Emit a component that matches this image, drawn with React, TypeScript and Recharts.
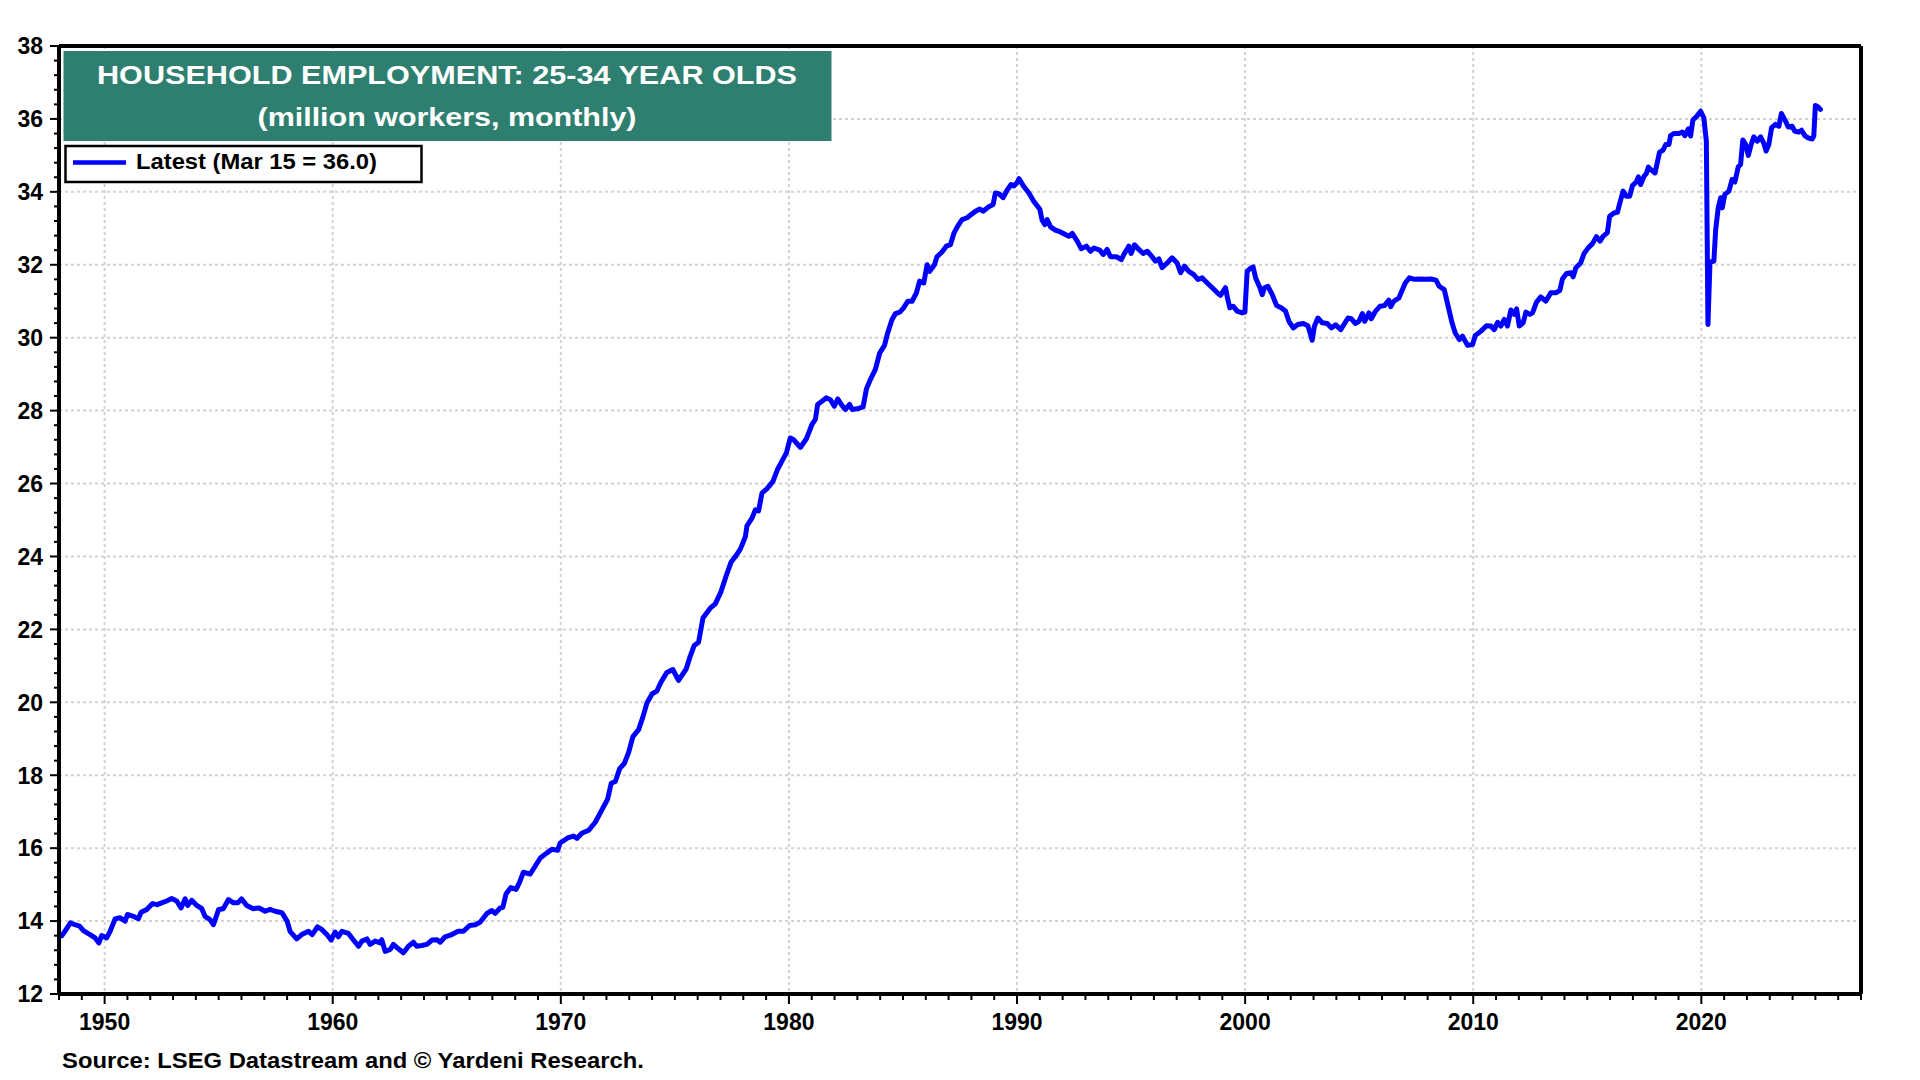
import { CartesianGrid, Line, LineChart, ReferenceLine, XAxis, YAxis } from "recharts";

const FONT = '"Liberation Sans", Arial, Helvetica, sans-serif';
const BLUE = "#0000ff";

// [year, million workers]
const from1948 = [
  [1948.12, 13.6], [1948.26, 13.72], [1948.5, 13.95], [1948.7, 13.9], [1948.9, 13.86], [1949.07, 13.74],
  [1949.36, 13.63], [1949.58, 13.54], [1949.75, 13.4], [1949.87, 13.6], [1950.09, 13.54], [1950.24, 13.72],
  [1950.46, 14.06], [1950.68, 14.09], [1950.9, 14.0], [1951.0, 14.18], [1951.26, 14.13], [1951.48, 14.06],
  [1951.6, 14.24], [1951.85, 14.32], [1952.1, 14.48], [1952.3, 14.45], [1952.5, 14.5], [1952.72, 14.55],
  [1952.94, 14.62], [1953.16, 14.55], [1953.35, 14.36], [1953.53, 14.61], [1953.64, 14.43], [1953.82, 14.57],
  [1954.04, 14.43], [1954.26, 14.34], [1954.4, 14.13], [1954.62, 14.04], [1954.77, 13.9], [1955.0, 14.32],
  [1955.2, 14.34], [1955.43, 14.59], [1955.65, 14.5], [1955.84, 14.5], [1956.0, 14.61], [1956.23, 14.43],
  [1956.52, 14.34], [1956.77, 14.36], [1957.04, 14.27], [1957.25, 14.32], [1957.47, 14.27], [1957.77, 14.23],
  [1958.0, 14.0], [1958.13, 13.72], [1958.42, 13.51], [1958.64, 13.63], [1958.94, 13.72], [1959.1, 13.63],
  [1959.33, 13.84], [1959.52, 13.77], [1959.74, 13.63], [1959.93, 13.48],
];

const from1960 = [
  [1960.1, 13.7], [1960.25, 13.57], [1960.4, 13.72], [1960.69, 13.66], [1960.9, 13.49], [1961.13, 13.31],
  [1961.28, 13.45], [1961.5, 13.51], [1961.64, 13.36], [1961.86, 13.45], [1962.08, 13.4], [1962.15, 13.49],
  [1962.3, 13.17], [1962.52, 13.22], [1962.66, 13.36], [1962.88, 13.24], [1963.1, 13.13], [1963.32, 13.31],
  [1963.54, 13.42], [1963.68, 13.31], [1963.9, 13.33], [1964.13, 13.36], [1964.35, 13.48], [1964.57, 13.49],
  [1964.71, 13.42], [1964.93, 13.57], [1965.22, 13.63], [1965.5, 13.72], [1965.73, 13.72], [1966.0, 13.88],
  [1966.25, 13.9], [1966.46, 13.97], [1966.76, 14.21], [1966.98, 14.29], [1967.12, 14.21], [1967.34, 14.36],
  [1967.46, 14.38], [1967.6, 14.75], [1967.81, 14.92], [1968.04, 14.87], [1968.19, 15.06], [1968.36, 15.34],
  [1968.66, 15.29], [1968.88, 15.51], [1969.1, 15.73], [1969.39, 15.87], [1969.61, 15.97], [1969.86, 15.94],
];

const from1970 = [
  [1969.97, 16.14], [1970.3, 16.28], [1970.56, 16.33], [1970.71, 16.27], [1970.92, 16.41], [1971.22, 16.49],
  [1971.51, 16.71], [1971.8, 17.05], [1972.05, 17.34], [1972.21, 17.78], [1972.39, 17.83], [1972.58, 18.18],
  [1972.78, 18.32], [1972.97, 18.62], [1973.16, 19.06], [1973.41, 19.25], [1973.6, 19.6], [1973.78, 19.99],
  [1974.0, 20.23], [1974.21, 20.31], [1974.39, 20.55], [1974.65, 20.82], [1974.91, 20.9], [1975.16, 20.6],
  [1975.5, 20.92], [1975.67, 21.26], [1975.85, 21.56], [1976.04, 21.65], [1976.23, 22.31], [1976.55, 22.58],
  [1976.77, 22.7], [1977.02, 23.03], [1977.25, 23.47], [1977.46, 23.84], [1977.69, 24.03], [1977.87, 24.2],
  [1978.09, 24.54], [1978.16, 24.84], [1978.38, 25.05], [1978.53, 25.28], [1978.67, 25.25], [1978.82, 25.74],
  [1979.04, 25.86], [1979.3, 26.06], [1979.51, 26.4], [1979.7, 26.62], [1979.89, 26.84],
];

const from1980 = [
  [1980.06, 27.25], [1980.21, 27.2], [1980.5, 26.99], [1980.76, 27.22], [1981.01, 27.62], [1981.16, 27.76],
  [1981.26, 28.17], [1981.45, 28.26], [1981.64, 28.35], [1981.82, 28.3], [1981.99, 28.12], [1982.14, 28.32],
  [1982.33, 28.14], [1982.47, 28.03], [1982.66, 28.17], [1982.77, 28.03], [1982.99, 28.05], [1983.25, 28.1],
  [1983.4, 28.6], [1983.57, 28.85], [1983.79, 29.13], [1983.98, 29.58], [1984.19, 29.79], [1984.33, 30.13],
  [1984.52, 30.5], [1984.67, 30.66], [1984.86, 30.7], [1985.03, 30.82], [1985.21, 31.0], [1985.4, 31.0],
  [1985.59, 31.23], [1985.73, 31.55], [1985.91, 31.5], [1986.06, 32.0], [1986.17, 31.82], [1986.38, 32.0],
  [1986.49, 32.22], [1986.71, 32.35], [1986.9, 32.51], [1987.08, 32.55], [1987.23, 32.86], [1987.4, 33.06],
  [1987.59, 33.24], [1987.81, 33.29], [1987.99, 33.38], [1988.18, 33.47], [1988.37, 33.53], [1988.51, 33.47],
  [1988.76, 33.59], [1988.95, 33.65], [1989.05, 33.97], [1989.2, 33.95], [1989.39, 33.84], [1989.57, 34.05],
  [1989.74, 34.2], [1989.86, 34.16],
];

const from1990 = [
  [1990.0, 34.25], [1990.09, 34.36], [1990.27, 34.17], [1990.52, 33.97], [1990.73, 33.74], [1991.0, 33.52],
  [1991.1, 33.22], [1991.22, 33.1], [1991.32, 33.24], [1991.47, 33.04], [1991.68, 32.95], [1991.9, 32.9],
  [1992.12, 32.83], [1992.27, 32.78], [1992.42, 32.86], [1992.64, 32.65], [1992.81, 32.44], [1993.04, 32.51],
  [1993.22, 32.37], [1993.37, 32.46], [1993.63, 32.4], [1993.78, 32.28], [1993.95, 32.42], [1994.1, 32.22],
  [1994.36, 32.22], [1994.57, 32.14], [1994.71, 32.31], [1994.9, 32.51], [1995.0, 32.31], [1995.15, 32.55],
  [1995.34, 32.42], [1995.53, 32.31], [1995.71, 32.37], [1995.88, 32.25], [1996.07, 32.1], [1996.22, 32.16],
  [1996.36, 31.92], [1996.58, 32.05], [1996.8, 32.19], [1997.02, 32.05], [1997.17, 31.78], [1997.34, 31.96],
  [1997.53, 31.82], [1997.75, 31.73], [1997.93, 31.6], [1998.12, 31.64], [1998.34, 31.5], [1998.56, 31.37],
  [1998.78, 31.23], [1998.92, 31.16], [1999.14, 31.37], [1999.24, 31.05], [1999.33, 30.82], [1999.48, 30.86],
  [1999.65, 30.73], [1999.87, 30.68], [1999.99, 30.7],
];

const from2000 = [
  [2000.09, 31.82], [2000.21, 31.89], [2000.35, 31.94], [2000.46, 31.64], [2000.65, 31.37], [2000.75, 31.18],
  [2000.85, 31.37], [2001.0, 31.41], [2001.19, 31.18], [2001.38, 30.88], [2001.58, 30.82], [2001.77, 30.73],
  [2001.92, 30.45], [2002.11, 30.27], [2002.31, 30.36], [2002.55, 30.39], [2002.75, 30.33], [2002.94, 29.93],
  [2003.04, 30.32], [2003.19, 30.54], [2003.38, 30.41], [2003.6, 30.39], [2003.78, 30.27], [2003.97, 30.35],
  [2004.19, 30.22], [2004.36, 30.39], [2004.51, 30.54], [2004.65, 30.52], [2004.84, 30.39], [2004.99, 30.45],
  [2005.14, 30.66], [2005.24, 30.45], [2005.43, 30.68], [2005.53, 30.52], [2005.72, 30.73], [2005.91, 30.86],
  [2006.11, 30.88], [2006.3, 31.03], [2006.38, 30.85], [2006.52, 31.0], [2006.74, 31.09], [2007.02, 31.5],
  [2007.2, 31.64], [2007.42, 31.6], [2007.64, 31.61], [2007.9, 31.6], [2008.15, 31.61], [2008.37, 31.58],
  [2008.51, 31.41], [2008.73, 31.32], [2008.83, 31.05], [2008.95, 30.73], [2009.07, 30.41], [2009.21, 30.13],
  [2009.39, 29.95], [2009.53, 30.04], [2009.75, 29.79], [2009.97, 29.81],
];

const from2010 = [
  [2010.09, 30.06], [2010.34, 30.18], [2010.58, 30.33], [2010.77, 30.32], [2010.92, 30.22], [2011.07, 30.42],
  [2011.21, 30.32], [2011.36, 30.5], [2011.5, 30.32], [2011.65, 30.76], [2011.8, 30.64], [2011.9, 30.79],
  [2012.02, 30.32], [2012.19, 30.41], [2012.31, 30.7], [2012.48, 30.64], [2012.6, 30.68], [2012.77, 30.97],
  [2012.96, 31.12], [2013.18, 31.0], [2013.4, 31.23], [2013.62, 31.23], [2013.8, 31.3], [2013.91, 31.61],
  [2014.09, 31.76], [2014.28, 31.78], [2014.38, 31.67], [2014.5, 31.92], [2014.71, 32.05], [2014.86, 32.31],
  [2015.05, 32.47], [2015.23, 32.58], [2015.4, 32.77], [2015.56, 32.65], [2015.69, 32.78], [2015.88, 32.88],
  [2015.98, 33.33], [2016.17, 33.42], [2016.32, 33.44], [2016.42, 33.68], [2016.57, 34.02], [2016.71, 33.88],
  [2016.86, 33.88], [2016.98, 34.17], [2017.15, 34.27], [2017.24, 34.41], [2017.34, 34.2], [2017.49, 34.43],
  [2017.59, 34.5], [2017.68, 34.68], [2017.78, 34.61], [2017.97, 34.52], [2018.17, 35.09], [2018.32, 35.14],
  [2018.44, 35.3], [2018.58, 35.3], [2018.65, 35.54], [2018.8, 35.6], [2019.02, 35.6], [2019.17, 35.64],
  [2019.28, 35.54], [2019.43, 35.73], [2019.53, 35.53], [2019.63, 35.97], [2019.82, 36.09], [2019.97, 36.21],
];

const from2020 = [
  [2020.11, 36.03], [2020.22, 35.39], [2020.29, 30.36], [2020.38, 32.07], [2020.55, 32.1], [2020.63, 32.97],
  [2020.74, 33.56], [2020.85, 33.84], [2020.92, 33.56], [2021.03, 33.93], [2021.21, 34.02], [2021.35, 34.34],
  [2021.47, 34.27], [2021.62, 34.69], [2021.72, 34.75], [2021.82, 35.42], [2021.94, 35.3], [2022.06, 35.0],
  [2022.16, 35.25], [2022.3, 35.51], [2022.45, 35.39], [2022.6, 35.51], [2022.74, 35.33], [2022.84, 35.12],
  [2022.96, 35.3], [2023.08, 35.76], [2023.25, 35.85], [2023.4, 35.8], [2023.51, 36.15], [2023.69, 35.94],
  [2023.81, 35.78], [2023.98, 35.8], [2024.1, 35.66], [2024.27, 35.64], [2024.39, 35.69], [2024.54, 35.54],
  [2024.68, 35.48], [2024.86, 35.45], [2024.93, 35.53], [2025.0, 36.37], [2025.12, 36.33], [2025.22, 36.26],
];

const yLabels = [12, 14, 16, 18, 20, 22, 24, 26, 28, 30, 32, 34, 36, 38];
const xLabels = [1950, 1960, 1970, 1980, 1990, 2000, 2010, 2020];

const data = [...from1948, ...from1960, ...from1970, ...from1980, ...from1990, ...from2000, ...from2010, ...from2020].map(
  ([year, value]) => ({ year, value })
);

// minor ticks: every 0.4 on y, every year on x
const yTicks = Array.from({ length: 66 }, (_, i) => Math.round((12 + i * 0.4) * 10) / 10);
const xTicks = Array.from({ length: 80 }, (_, i) => 1948 + i);
const gridY = yLabels.slice(1, -1);

const labelStyle = { fontFamily: FONT, fontWeight: 700, fill: "#000" } as const;

function LeftTick({ x, y, payload }: any) {
  const v = payload.value;
  const major = yLabels.includes(v);
  return (
    <g>
      <line x1={x} x2={x - (major ? 9 : 5)} y1={y} y2={y} stroke="#000" strokeWidth={2} />
      {major && (
        <text x={x - 16} y={y} dy="0.36em" textAnchor="end" fontSize={23} style={labelStyle}>
          {v}
        </text>
      )}
    </g>
  );
}

function RightTick({ x, y, payload }: any) {
  const v = payload.value;
  const major = yLabels.includes(v);
  return (
    <g>
      <line x1={x} x2={x + (major ? 9 : 5)} y1={y} y2={y} stroke="#000" strokeWidth={2} />
      {major && (
        <text x={x + 18} y={y} dy="0.36em" textAnchor="start" fontSize={23} style={labelStyle}>
          {v}
        </text>
      )}
    </g>
  );
}

function BottomTick({ x, y, payload }: any) {
  const v = payload.value;
  const major = xLabels.includes(v);
  return (
    <g>
      <line x1={x} x2={x} y1={y} y2={y + (major ? 10 : 6)} stroke="#000" strokeWidth={2} />
      {major && (
        <text x={x} y={y + 36} textAnchor="middle" fontSize={23} style={labelStyle}>
          {v}
        </text>
      )}
    </g>
  );
}

const frame = { stroke: "#000", strokeWidth: 4 };

export default function App() {
  return (
    <div style={{ position: "absolute", left: 0, top: 0, width: 1920, height: 1080, background: "#fff" }}>
      <LineChart width={1920} height={1080} data={data} margin={{ top: 46, right: 0, bottom: 0, left: 0 }}>
        <CartesianGrid
          yAxisId="left"
          horizontalValues={gridY}
          verticalValues={xLabels}
          stroke="#d2d2d2"
          strokeWidth={2}
          strokeDasharray="3 3"
        />
        <XAxis
          dataKey="year"
          type="number"
          domain={[1948, 2027]}
          ticks={xTicks}
          interval={0}
          height={86}
          tickSize={0}
          tickMargin={0}
          tickLine={false}
          axisLine={frame}
          tick={<BottomTick />}
        />
        <YAxis
          yAxisId="left"
          type="number"
          domain={[12, 38]}
          ticks={yTicks}
          interval={0}
          width={59}
          tickSize={0}
          tickMargin={0}
          tickLine={false}
          axisLine={frame}
          tick={<LeftTick />}
        />
        <YAxis
          yAxisId="right"
          orientation="right"
          type="number"
          domain={[12, 38]}
          ticks={yTicks}
          interval={0}
          width={59}
          tickSize={0}
          tickMargin={0}
          tickLine={false}
          axisLine={frame}
          tick={<RightTick />}
        />
        <ReferenceLine yAxisId="left" y={38} stroke="#000" strokeWidth={4} />
        <Line
          yAxisId="left"
          type="linear"
          dataKey="value"
          stroke={BLUE}
          strokeWidth={5}
          strokeLinejoin="round"
          strokeLinecap="round"
          dot={false}
          isAnimationActive={false}
        />
      </LineChart>

      <svg width={1920} height={1080} style={{ position: "absolute", left: 0, top: 0, pointerEvents: "none" }}>
        <rect x={63.5} y={51} width={768} height={90} fill="#2f7f71" />
        <text x={447} y={84} textAnchor="middle" fontSize={26.5} textLength={700} lengthAdjust="spacingAndGlyphs"
          style={{ ...labelStyle, fill: "#fff" }}>
          HOUSEHOLD EMPLOYMENT: 25-34 YEAR OLDS
        </text>
        <text x={447} y={126} textAnchor="middle" fontSize={26.5} textLength={379} lengthAdjust="spacingAndGlyphs"
          style={{ ...labelStyle, fill: "#fff" }}>
          (million workers, monthly)
        </text>

        <rect x={65.5} y={146} width={356} height={36} fill="#fff" stroke="#000" strokeWidth={2.5} />
        <line x1={73} x2={126} y1={162.5} y2={162.5} stroke={BLUE} strokeWidth={4.5} />
        <text x={136} y={169} fontSize={21.5} textLength={241} lengthAdjust="spacingAndGlyphs" style={labelStyle}>
          Latest (Mar 15 = 36.0)
        </text>

        <text x={62} y={1068} fontSize={22.5} textLength={582} lengthAdjust="spacingAndGlyphs" style={labelStyle}>
          Source: LSEG Datastream and © Yardeni Research.
        </text>
      </svg>
    </div>
  );
}
